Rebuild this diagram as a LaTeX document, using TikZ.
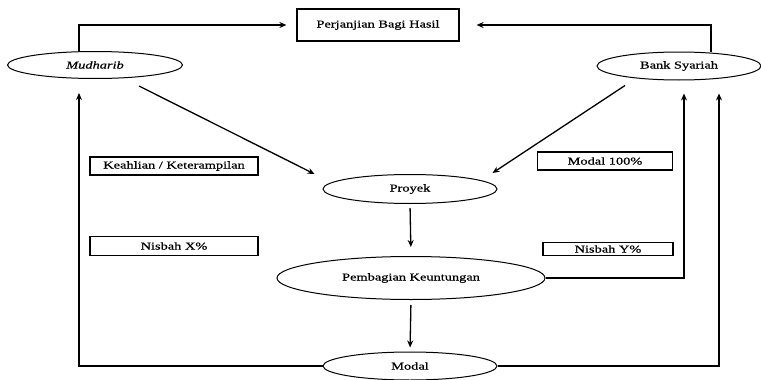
\documentclass[tikz,border=0pt]{standalone}
\usepackage{fontspec}
\setmainfont[FakeStretch=1.37,FakeBold=0.6]{Liberation Serif}
\usetikzlibrary{shapes.geometric}
\usetikzlibrary{arrows.meta}
\tikzset{
  elips/.style={draw,ellipse,line width=1pt,inner sep=0,font=\fontsize{10.5}{12}\selectfont},
  kotak/.style={draw,rectangle,line width=1.2pt,inner sep=0,font=\fontsize{10.5}{12}\selectfont},
  panah/.style={line width=1.3pt,-{Stealth[length=7pt,width=6pt]}}
}

\begin{document}
\begin{tikzpicture}[x=1pt,y=-1pt]
\useasboundingbox (0,0) rectangle (761,380);
\node[kotak,minimum width=162pt,minimum height=32pt] (perj) at (378,25) {Perjanjian Bagi Hasil};
\node[elips,minimum width=175pt,minimum height=27pt] (mud) at (95,65) {\itshape Mudharib};
\node[elips,minimum width=164pt,minimum height=28pt] (bank) at (679,66) {Bank Syariah};
\node[elips,minimum width=174pt,minimum height=29pt] (proj) at (410,189) {Proyek};
\node[elips,minimum width=268pt,minimum height=43pt] (pemb) at (411,278) {Pembagian Keuntungan};
\node[elips,minimum width=174pt,minimum height=28pt] (modal) at (410,366) {Modal};
\node[kotak,minimum width=168pt,minimum height=18pt] (keahlian) at (174,166) {Keahlian / Keterampilan};
\node[kotak,minimum width=168pt,minimum height=19pt] (nisx) at (174,246) {Nisbah X\%};
\node[kotak,minimum width=135pt,minimum height=18pt] (mod100) at (605,161) {Modal 100\%};
\node[kotak,minimum width=130pt,minimum height=13pt] (nisy) at (608,249) {Nisbah Y\%};

\draw[panah,shorten >=10pt] ([xshift=-16pt]mud.north) |- (perj.west);
\draw[panah,shorten >=17pt] ([xshift=32pt]bank.north) |- (perj.east);
\draw[panah] ([shift={(44,7)}]mud.south) -- ([shift={(-8,-15)}]proj.west);
\draw[panah] ([shift={(-54,5)}]bank.south) -- ([shift={(-5,-16)}]proj.east);
\draw[panah,shorten <=4pt,shorten >=9pt] (proj.south) -- (pemb.north);
\draw[panah,shorten <=5pt,shorten >=4pt] (pemb.south) -- (modal.north);
\draw[panah] (modal.west) -| ([shift={(-16,14)}]mud.south);
\draw[panah] (modal.east) -| ([shift={(40,13)}]bank.south);
\draw[panah] (pemb.east) -| ([shift={(5,13)}]bank.south);
\end{tikzpicture}
\end{document}
